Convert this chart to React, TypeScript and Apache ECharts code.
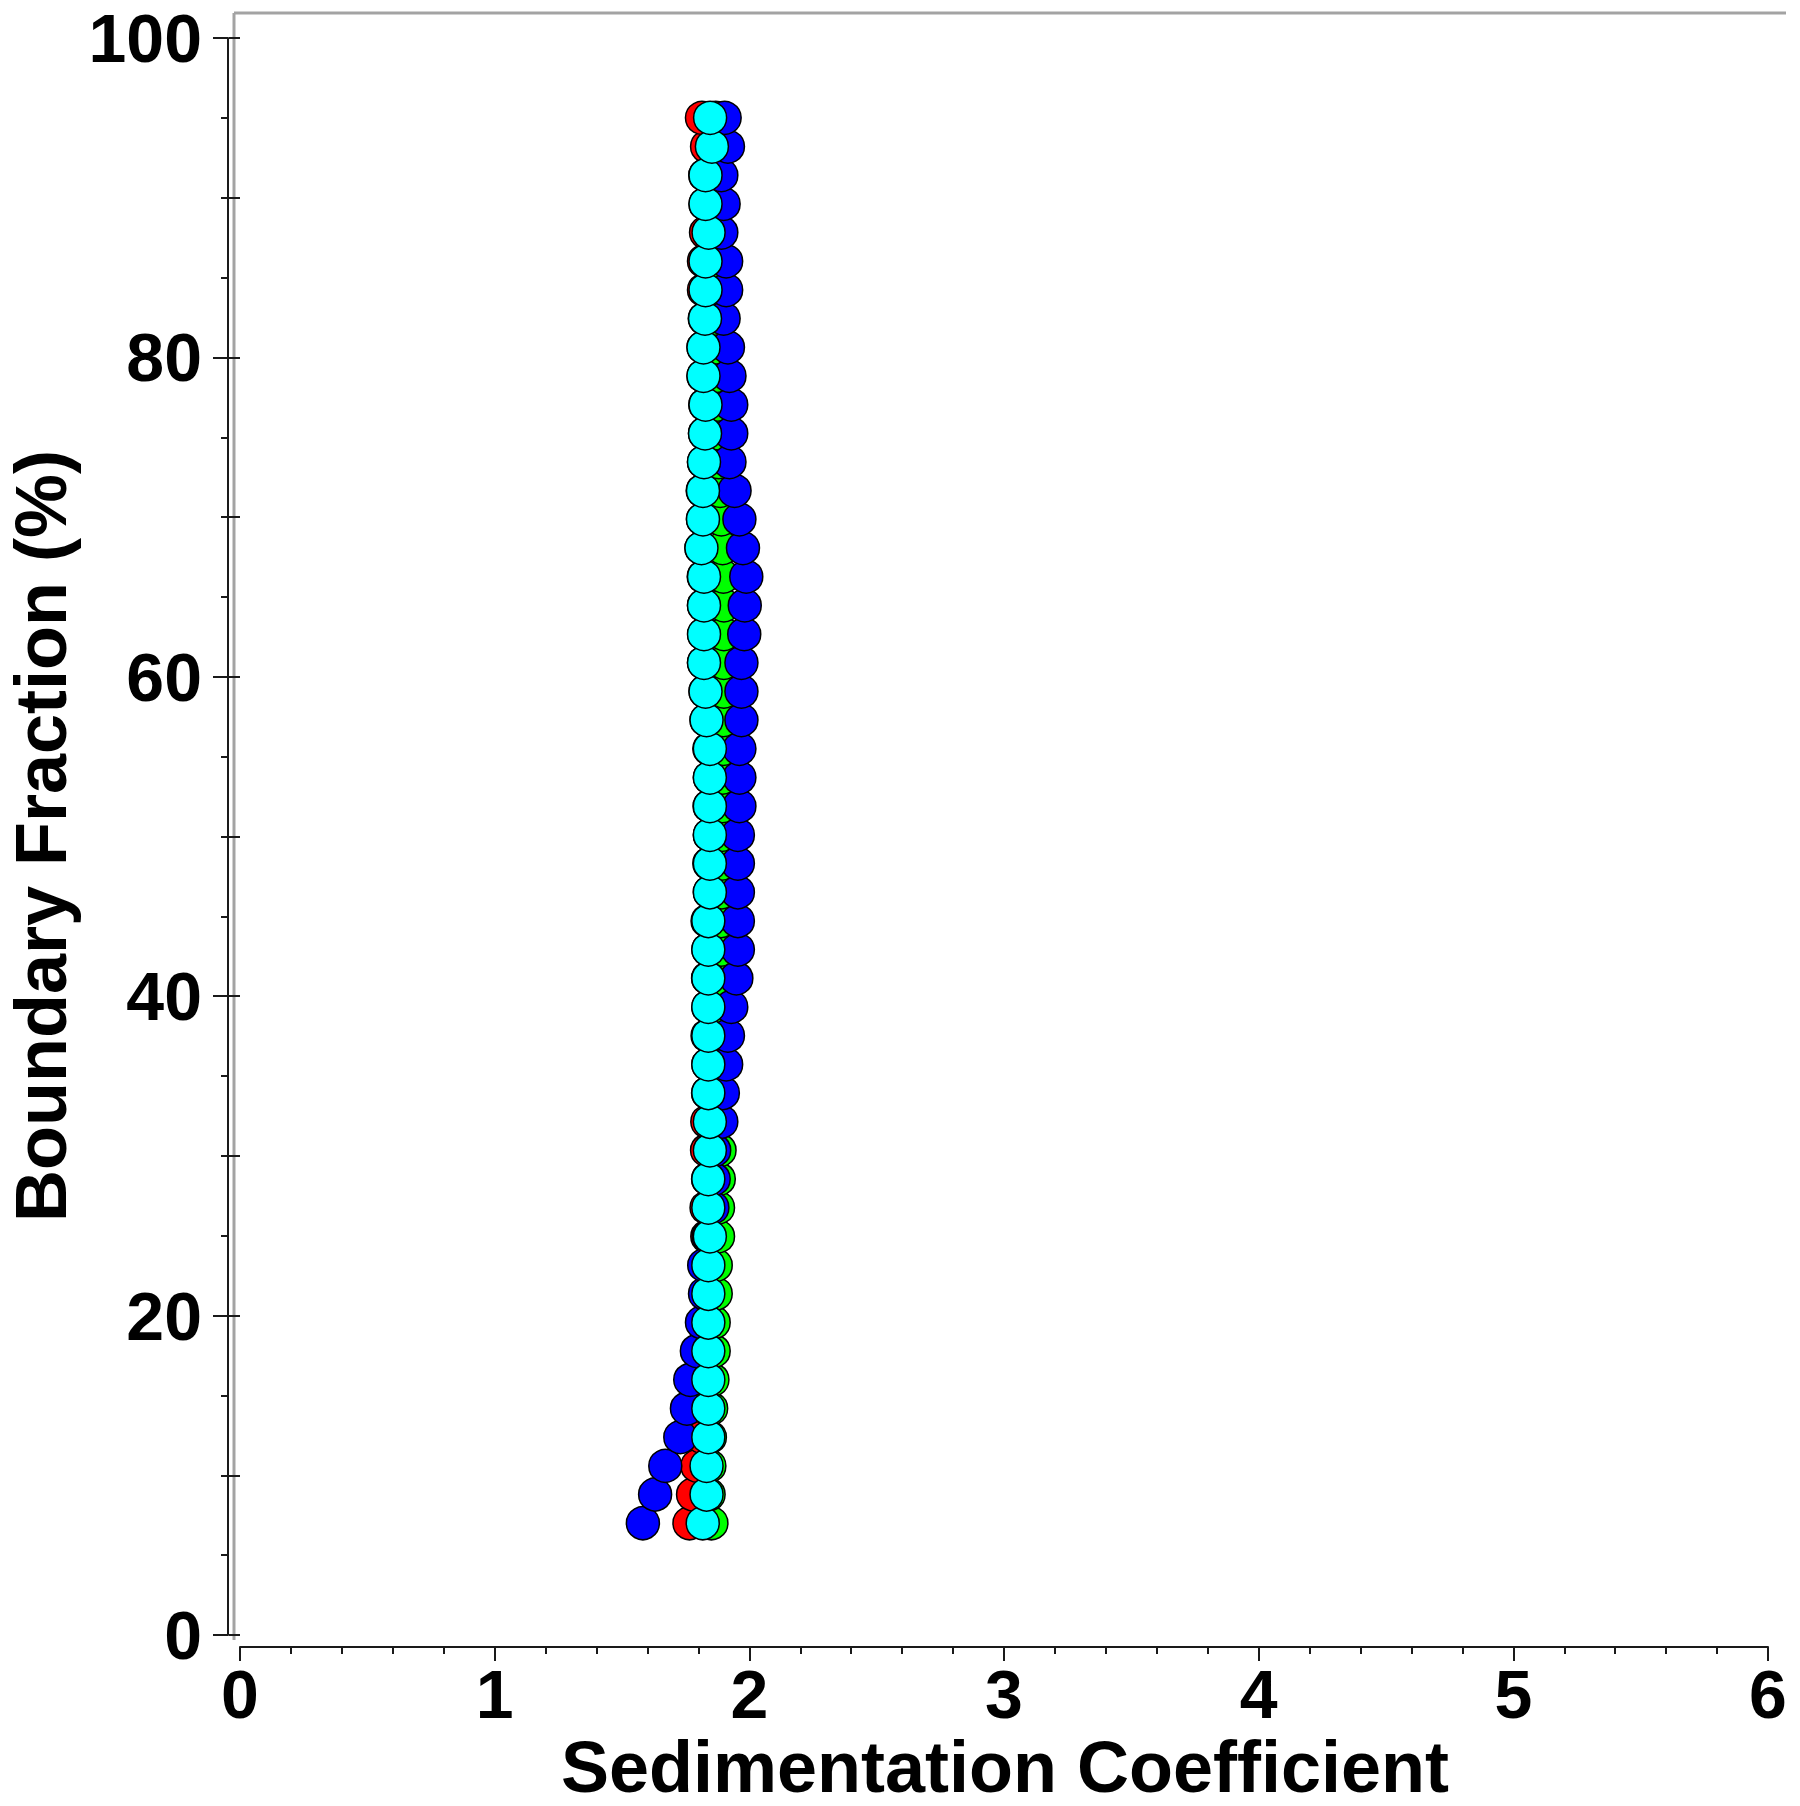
import React, { useEffect, useRef } from "react";
import * as echarts from "echarts";

// Boundary fraction (%) for each point, bottom to top
const boundaryFraction = [
  7.0, 8.8, 10.59, 12.39, 14.18, 15.98, 17.78, 19.57, 21.37, 23.16,
  24.96, 26.76, 28.55, 30.35, 32.14, 33.94, 35.73, 37.53, 39.33, 41.12,
  42.92, 44.71, 46.51, 48.31, 50.1, 51.9, 53.69, 55.49, 57.29, 59.08,
  60.88, 62.67, 64.47, 66.27, 68.06, 69.86, 71.65, 73.45, 75.24, 77.04,
  78.84, 80.63, 82.43, 84.22, 86.02, 87.82, 89.61, 91.41, 93.2, 95.0,
];

// Sedimentation coefficients per series (same order as boundaryFraction)
const sRed = [
  1.765, 1.779, 1.796, 1.815, 1.835, 1.838, 1.838, 1.838, 1.838, 1.838,
  1.835, 1.832, 1.838, 1.834, 1.835, 1.838, 1.839, 1.836, 1.839, 1.838,
  1.839, 1.836, 1.845, 1.843, 1.845, 1.844, 1.845, 1.843, 1.832, 1.828,
  1.822, 1.823, 1.822, 1.821, 1.812, 1.818, 1.817, 1.822, 1.826, 1.827,
  1.82, 1.82, 1.825, 1.822, 1.822, 1.83, 1.828, 1.827, 1.834, 1.814,
];
const sGreen = [
  1.851, 1.84, 1.843, 1.845, 1.85, 1.855, 1.86, 1.86, 1.868, 1.868,
  1.877, 1.877, 1.88, 1.883, 1.88, 1.882, 1.885, 1.885, 1.885, 1.888,
  1.89, 1.89, 1.892, 1.892, 1.892, 1.895, 1.895, 1.898, 1.898, 1.9,
  1.9, 1.9, 1.9, 1.898, 1.895, 1.89, 1.885, 1.88, 1.878, 1.875,
  1.872, 1.87, 1.868, 1.866, 1.866, 1.865, 1.865, 1.864, 1.87, 1.868,
];
const sBlue = [
  1.582, 1.63, 1.67, 1.729, 1.755, 1.768, 1.794, 1.814, 1.826, 1.823,
  1.84, 1.855, 1.86, 1.862, 1.89, 1.896, 1.909, 1.916, 1.929, 1.949,
  1.955, 1.955, 1.955, 1.955, 1.955, 1.961, 1.961, 1.961, 1.969, 1.969,
  1.969, 1.98, 1.982, 1.988, 1.975, 1.961, 1.942, 1.922, 1.929, 1.929,
  1.922, 1.916, 1.899, 1.909, 1.909, 1.89, 1.899, 1.89, 1.916, 1.903,
];
const sCyan = [
  1.817, 1.832, 1.832, 1.839, 1.839, 1.839, 1.839, 1.839, 1.839, 1.839,
  1.845, 1.839, 1.839, 1.845, 1.845, 1.839, 1.839, 1.839, 1.839, 1.839,
  1.839, 1.839, 1.845, 1.845, 1.845, 1.845, 1.845, 1.845, 1.832, 1.828,
  1.822, 1.822, 1.822, 1.822, 1.812, 1.818, 1.818, 1.822, 1.826, 1.828,
  1.82, 1.82, 1.826, 1.828, 1.828, 1.84, 1.828, 1.828, 1.853, 1.846,
];

const seriesDefs = [
  { name: "Red", values: sRed, color: "#ff0000" },
  { name: "Green", values: sGreen, color: "#00ff00" },
  { name: "Blue", values: sBlue, color: "#0000ff" },
  { name: "Cyan", values: sCyan, color: "#00ffff" },
];

const xTitle = "Sedimentation Coefficient";
const yTitle = "Boundary Fraction (%)";

export default function App() {
  const ref = useRef<HTMLDivElement>(null);
  useEffect(() => {
    document.body.style.margin = "0";
    const chart = echarts.init(ref.current!, null, { renderer: "svg" });
    const font = '"Liberation Sans", Arial, Helvetica, sans-serif';
    const axisColor = "#1a1a1a";
    chart.setOption({
      animation: false,
      backgroundColor: "#ffffff",
      grid: { left: 240, right: 32, top: 38, bottom: 171, containLabel: false },
      xAxis: {
        type: "value",
        min: 0,
        max: 6,
        interval: 1,
        position: "bottom",
        offset: 12,
        axisLine: { show: true, onZero: false, lineStyle: { color: axisColor, width: 2 } },
        axisTick: { show: true, inside: false, length: 14, lineStyle: { color: axisColor, width: 2 } },
        minorTick: { show: true, splitNumber: 5, length: 7, lineStyle: { color: axisColor, width: 2 } },
        splitLine: { show: false },
        minorSplitLine: { show: false },
        axisLabel: { fontSize: 68, fontWeight: "bold", fontFamily: font, color: "#000", margin: 13 },
      },
      yAxis: [
        {
          type: "value",
          min: 0,
          max: 100,
          interval: 20,
          position: "left",
          offset: 12,
          axisLine: { show: true, onZero: false, lineStyle: { color: axisColor, width: 2 } },
          axisTick: { show: true, inside: false, length: 15, lineStyle: { color: axisColor, width: 2 } },
          minorTick: { show: true, splitNumber: 4, length: 7, lineStyle: { color: axisColor, width: 2 } },
          splitLine: { show: false },
          minorSplitLine: { show: false },
          axisLabel: { fontSize: 68, fontWeight: "bold", fontFamily: font, color: "#000", margin: 26 },
        },
        {
          type: "value",
          min: 0,
          max: 100,
          interval: 10,
          position: "left",
          offset: 12,
          axisLine: { show: false },
          axisTick: { show: true, inside: false, length: 11, lineStyle: { color: axisColor, width: 2 } },
          axisLabel: { show: false },
          splitLine: { show: false },
        },
      ],
      graphic: [
        {
          type: "line",
          shape: { x1: 234, y1: 13, x2: 1786, y2: 13 },
          style: { stroke: "#a3a3a3", lineWidth: 3 },
        },
        {
          type: "line",
          shape: { x1: 234, y1: 13, x2: 234, y2: 1640 },
          style: { stroke: "#a3a3a3", lineWidth: 3 },
        },
        {
          type: "text",
          x: 1005,
          y: 1767,
          style: {
            text: xTitle,
            font: `bold 72px ${font}`,
            fill: "#000",
            textAlign: "center",
            textVerticalAlign: "middle",
          },
        },
        {
          type: "text",
          x: 41,
          y: 836,
          rotation: Math.PI / 2,
          style: {
            text: yTitle,
            font: `bold 72px ${font}`,
            fill: "#000",
            textAlign: "center",
            textVerticalAlign: "middle",
          },
        },
      ],
      series: seriesDefs.map((s) => ({
        name: s.name,
        type: "scatter",
        xAxisIndex: 0,
        yAxisIndex: 0,
        symbol: "circle",
        symbolSize: 33,
        data: s.values.map((x, i) => [x, boundaryFraction[i]]),
        itemStyle: { color: s.color, borderColor: "#000", borderWidth: 1.5, opacity: 1 },
        emphasis: { disabled: true },
      })),
    });
    return () => chart.dispose();
  }, []);
  return (
    <div
      ref={ref}
      style={{ position: "absolute", left: 0, top: 0, width: 1800, height: 1806 }}
    />
  );
}
